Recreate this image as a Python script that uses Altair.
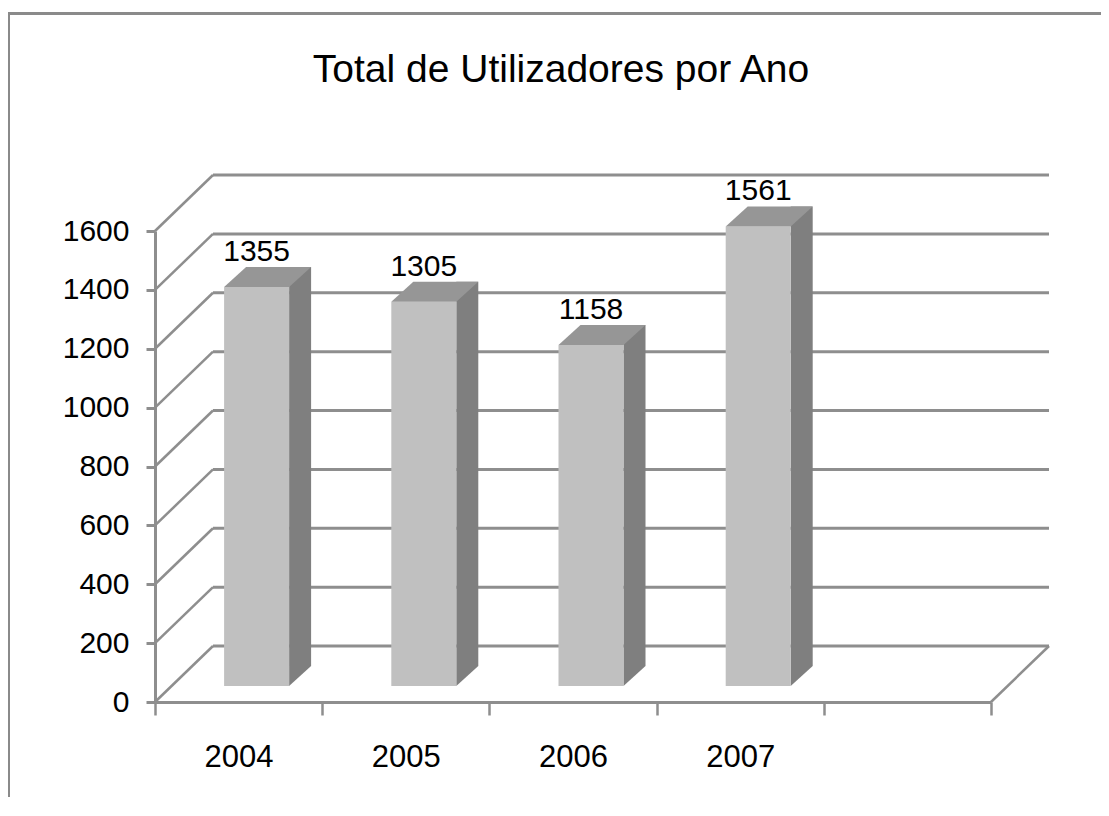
import altair as alt
import pandas as pd

# ---- data ----
years = ["2004", "2005", "2006", "2007"]
users = [1355, 1305, 1158, 1561]
y_ticks = [0, 200, 400, 600, 800, 1000, 1200, 1400, 1600]
x_domain = years + [""]
title_text = "Total de Utilizadores por Ano"

# ---- styling / geometry ----
FONT = "Liberation Sans, Arial, sans-serif"
W, H = 836, 471
DX, DY = 58, -56     # depth of back wall
BX, BY = 18, -16     # bar front-face depth
SX, SY = 22, -20     # bar thickness (side / top)
BW = 65
GRID = "#8e8e8e"
FRONT = "#c0c0c0"
SIDE = "#7f7f7f"
TOP = "#969696"

df = pd.DataFrame({"year": years, "users": users})
grid = pd.DataFrame({"v": y_ticks})
zero = pd.DataFrame({"v": [0]})
frame = pd.DataFrame({"k": [0]})

yscale = alt.Scale(domain=[0, 1600], nice=False, zero=True)
xscale = alt.Scale(domain=x_domain, paddingInner=0, paddingOuter=0)

x_axis = alt.Axis(
    labelFont=FONT, labelFontSize=31, labelColor="black", labelAngle=0,
    labelPadding=27, tickSize=13, tickWidth=2.5, tickColor=GRID,
    tickBand="extent", domainColor=GRID, domainWidth=3, grid=False,
    title=None,
)
y_axis = alt.Axis(
    values=y_ticks, format="d", labelFont=FONT, labelFontSize=30,
    labelColor="black", labelPadding=17, tickSize=9, tickWidth=3,
    tickColor=GRID, domainColor=GRID, domainWidth=3, grid=False, title=None,
)


def xe(field="year:N"):
    return alt.X(field, scale=xscale, sort=None, axis=x_axis, title=None)


def ye(field):
    return alt.Y(field, scale=yscale, axis=y_axis, title=None)


# back wall gridlines
back = alt.Chart(grid).mark_rule(
    color=GRID, strokeWidth=3, xOffset=DX, x2Offset=DX, yOffset=DY
).encode(x=alt.value(0), x2=alt.value(W), y=ye("v:Q"))

# left wall diagonals
side_wall = alt.Chart(grid).mark_rule(
    color=GRID, strokeWidth=2.5, y2Offset=DY
).encode(x=alt.value(0), x2=alt.value(DX), y=ye("v:Q"), y2="v:Q")

# floor right edge
floor_edge = alt.Chart(zero).mark_rule(
    color=GRID, strokeWidth=2.5, y2Offset=DY
).encode(x=alt.value(W), x2=alt.value(W + DX), y=ye("v:Q"), y2="v:Q")

# bar side faces
side = alt.Chart(df).mark_bar(
    size=SX, color=SIDE, xOffset=BX + BW / 2 + SX / 2,
    yOffset=BY + SY, y2Offset=BY + SY
).encode(x=xe(), y=ye("users:Q"), y2=alt.datum(0))

side_bottom = alt.Chart(df).mark_point(
    shape=f"M{BW/2},0L{BW/2+SX},{SY}L{BW/2},{SY}Z", size=4, filled=True,
    opacity=1, color=SIDE, xOffset=BX, yOffset=BY
).encode(x=xe(), y=alt.datum(0))

front = alt.Chart(df).mark_bar(
    size=BW, color=FRONT, xOffset=BX, yOffset=BY, y2Offset=BY
).encode(x=xe(), y=ye("users:Q"), y2=alt.datum(0))

top = alt.Chart(df).mark_point(
    shape=f"M{-BW/2},0L{BW/2},0L{BW/2+SX},{SY}L{-BW/2+SX},{SY}Z", size=4,
    filled=True, opacity=1, color=TOP, xOffset=BX, yOffset=BY
).encode(x=xe(), y=ye("users:Q"))

labels = alt.Chart(df).mark_text(
    font=FONT, fontSize=30, color="black", align="center",
    baseline="alphabetic", dx=BX, dy=BY - 26
).encode(x=xe(), y=ye("users:Q"), text="users:Q")

# outer frame of the chart area
frame_top = alt.Chart(frame).mark_rule(color="#8a8a8a", strokeWidth=3).encode(
    x=alt.value(-146.5), x2=alt.value(W + 120), y=alt.value(-217.5)
)
frame_left = alt.Chart(frame).mark_rule(color="#8a8a8a", strokeWidth=3).encode(
    x=alt.value(-146.5), y=alt.value(-219), y2=alt.value(H + 120)
)

chart = alt.layer(
    back, side_wall, floor_edge, side, side_bottom, front, top, labels,
    frame_top, frame_left
).properties(
    width=W, height=H,
    title=alt.Title(title_text, font=FONT, fontSize=39, fontWeight="normal",
                    color="black", dx=-12, offset=-79),
    autosize=alt.AutoSizeParams(type="none"),
    padding={"left": 147, "top": 223, "right": 110, "bottom": 95},
    background="white",
).configure_view(stroke=None)

chart.save("out.html", embed_options={"renderer": "svg", "actions": False})
